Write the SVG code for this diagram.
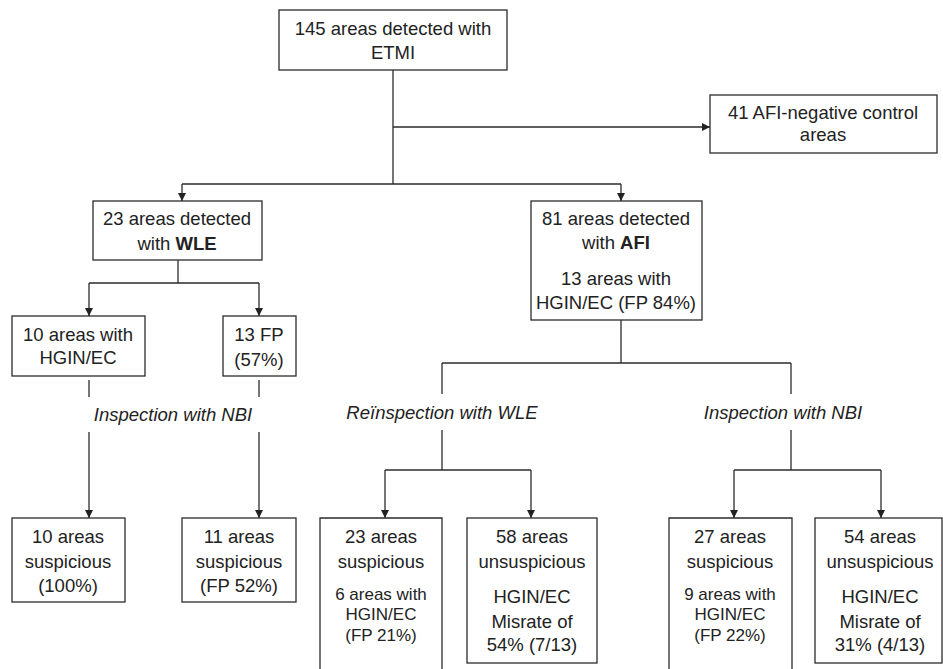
<svg xmlns="http://www.w3.org/2000/svg" width="943" height="669" viewBox="0 0 943 669">
<style>
.box{fill:#fff;stroke:#2b2b2b;stroke-width:1.3}
.ln{fill:none;stroke:#2b2b2b;stroke-width:1.3}
text{font-family:"Liberation Sans",Arial,sans-serif;font-size:18.5px;fill:#222;text-anchor:middle}
.sm{font-size:17px}
.it{font-style:italic}
.b{font-weight:bold}
</style>
<defs>
<marker id="ah" viewBox="0 0 10 10" refX="10" refY="5" markerWidth="8" markerHeight="8" markerUnits="userSpaceOnUse" orient="auto">
<path d="M0,0 L10,5 L0,10 Z" fill="#222"/>
</marker>
</defs>
<g id="connectors">
<path class="ln" d="M393,70 V184"/>
<path class="ln" d="M393,127 H710" marker-end="url(#ah)"/>
<path class="ln" d="M182,184 H621"/>
<path class="ln" d="M182,184 V201" marker-end="url(#ah)"/>
<path class="ln" d="M621,184 V201" marker-end="url(#ah)"/>
<path class="ln" d="M178,260 V283"/>
<path class="ln" d="M89,283 H259"/>
<path class="ln" d="M89,283 V316" marker-end="url(#ah)"/>
<path class="ln" d="M259,283 V316" marker-end="url(#ah)"/>
<path class="ln" d="M89,380 V397"/>
<path class="ln" d="M89,432 V518" marker-end="url(#ah)"/>
<path class="ln" d="M259,380 V397"/>
<path class="ln" d="M259,432 V518" marker-end="url(#ah)"/>
<path class="ln" d="M621,320 V363"/>
<path class="ln" d="M442,363 H791"/>
<path class="ln" d="M442,363 V394"/>
<path class="ln" d="M442,430 V470"/>
<path class="ln" d="M385,470 H531"/>
<path class="ln" d="M385,470 V518" marker-end="url(#ah)"/>
<path class="ln" d="M531,470 V518" marker-end="url(#ah)"/>
<path class="ln" d="M791,363 V394"/>
<path class="ln" d="M791,430 V470"/>
<path class="ln" d="M734,470 H881"/>
<path class="ln" d="M734,470 V518" marker-end="url(#ah)"/>
<path class="ln" d="M881,470 V518" marker-end="url(#ah)"/>
</g>
<g id="labels">
<text class="it" x="173" y="421">Inspection with NBI</text>
<text class="it" x="442" y="419">Reïnspection with WLE</text>
<text class="it" x="783" y="419">Inspection with NBI</text>
</g>
<g id="etmi">
<rect class="box" x="279" y="10" width="228" height="60"/>
<text x="393" y="35">145 areas detected with</text>
<text x="393" y="59">ETMI</text>
</g>
<g id="control">
<rect class="box" x="710" y="95" width="227" height="58"/>
<text x="823" y="119">41 AFI-negative control</text>
<text x="823" y="141">areas</text>
</g>
<g id="wle">
<rect class="box" x="93" y="201" width="169" height="59"/>
<text x="177" y="225">23 areas detected</text>
<text x="177" y="250">with <tspan class="b">WLE</tspan></text>
</g>
<g id="afi">
<rect class="box" x="531" y="201" width="171" height="119"/>
<text x="616" y="225">81 areas detected</text>
<text x="616" y="249">with <tspan class="b">AFI</tspan></text>
<text x="616" y="285">13 areas with</text>
<text x="616" y="309">HGIN/EC (FP 84%)</text>
</g>
<g id="hgin">
<rect class="box" x="12" y="316" width="133" height="60"/>
<text x="78" y="341">10 areas with</text>
<text x="78" y="364">HGIN/EC</text>
</g>
<g id="fp">
<rect class="box" x="223" y="316" width="73" height="60"/>
<text x="259" y="341">13 FP</text>
<text x="259" y="366">(57%)</text>
</g>
<g id="susp10">
<rect class="box" x="12" y="518" width="113" height="84"/>
<text x="68" y="543">10 areas</text>
<text x="68" y="568">suspicious</text>
<text x="68" y="592">(100%)</text>
</g>
<g id="susp11">
<rect class="box" x="182" y="518" width="114" height="84"/>
<text x="239" y="543">11 areas</text>
<text x="239" y="568">suspicious</text>
<text x="239" y="592">(FP 52%)</text>
</g>
<g id="susp23">
<path class="box" d="M320,670 V518 H442 V670"/>
<text x="381" y="543">23 areas</text>
<text x="381" y="568">suspicious</text>
<text class="sm" x="381" y="600">6 areas with</text>
<text class="sm" x="381" y="620">HGIN/EC</text>
<text class="sm" x="381" y="641">(FP 21%)</text>
</g>
<g id="unsusp58">
<rect class="box" x="467" y="518" width="130" height="145"/>
<text x="532" y="543">58 areas</text>
<text x="532" y="568">unsuspicious</text>
<text x="532" y="603">HGIN/EC</text>
<text x="532" y="628">Misrate of</text>
<text x="532" y="651">54% (7/13)</text>
</g>
<g id="susp27">
<path class="box" d="M669,670 V518 H792 V670"/>
<text x="730" y="543">27 areas</text>
<text x="730" y="568">suspicious</text>
<text class="sm" x="730" y="600">9 areas with</text>
<text class="sm" x="730" y="620">HGIN/EC</text>
<text class="sm" x="730" y="641">(FP 22%)</text>
</g>
<g id="unsusp54">
<rect class="box" x="815" y="518" width="127" height="145"/>
<text x="880" y="543">54 areas</text>
<text x="880" y="568">unsuspicious</text>
<text x="880" y="603">HGIN/EC</text>
<text x="880" y="628">Misrate of</text>
<text x="880" y="651">31% (4/13)</text>
</g>
</svg>
